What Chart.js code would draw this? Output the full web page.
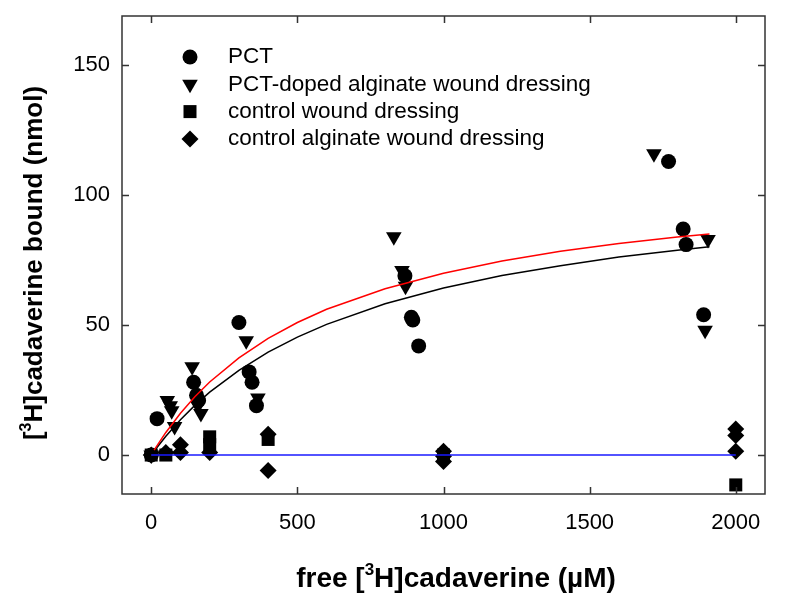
<!DOCTYPE html>
<html>
<head>
<meta charset="utf-8">
<script src="https://cdn.jsdelivr.net/npm/chart.js@4.4.0/dist/chart.umd.min.js"></script>
<style>
  html, body { margin: 0; padding: 0; background: #fff; }
</style>
</head>
<body>
<canvas id="myChart" width="787" height="593"></canvas>
<script>
// tick values
const xTicks = [0, 500, 1000, 1500, 2000];
const yTicks = [0, 50, 100, 150];

const seriesNames = ['PCT', 'PCT-doped alginate wound dressing', 'control wound dressing', 'control alginate wound dressing'];

// PCT (circles)
const pctX = [0, 20, 145, 155, 162, 300, 335, 345, 360, 868, 890, 895, 915, 1770, 1820, 1830, 1890];
const pctY = [0, 14, 28, 23, 21, 51, 32, 28, 19, 69, 53, 52, 42, 113, 87, 81, 54];

// PCT-doped alginate wound dressing (down triangles)
const dopedX = [0, 55, 65, 70, 80, 140, 160, 170, 325, 365, 830, 858, 870, 1720, 1905, 1895];
const dopedY = [0, 21, 19, 17, 11, 34, 19, 16, 44, 22, 84, 71, 65, 116, 83, 48];

// control wound dressing (squares)
const ctrlX = [0, 50, 200, 200, 400, 1000, 2000];
const ctrlY = [0, 0, 7, 4, 6, 0, -11.5];

// control alginate wound dressing (diamonds)
const algX = [0, 50, 100, 100, 200, 400, 400, 1000, 1000, 1000, 2000, 2000, 2000];
const algY = [0, 1, 1, 4, 1, 8, -6, 1.5, -0.5, -2.5, 10, 7.5, 1.5];

// fitted curves
const fitX = [10, 25, 50, 100, 150, 200, 300, 400, 500, 600, 800, 1000, 1200, 1400, 1600, 1800, 1910];
const fitRed = [1.9, 4.5, 8.7, 16.1, 22.5, 28.1, 37.4, 44.9, 51.0, 56.1, 64.0, 70.0, 74.7, 78.4, 81.4, 83.9, 85.1];
const fitBlack = [1.5, 3.7, 7.2, 13.6, 19.2, 24.2, 32.6, 39.6, 45.4, 50.3, 58.2, 64.3, 69.1, 72.9, 76.2, 78.8, 80.2];
const baseX = [0, 2000];
const baseY = [0, 0];

const xTitle = ['free [', '3', 'H]cadaverine (\u00b5M)'];
const yTitle = ['[', '3', 'H]cadaverine bound (nmol)'];

const pts = (xs, ys) => xs.map((x, i) => ({ x: x, y: ys[i] }));
const FAM = '"Liberation Sans", Arial, sans-serif';

function marker(c, style, x, y) {
  c.beginPath();
  if (style === 'circle') {
    c.arc(x, y, 7.5, 0, Math.PI * 2);
  } else if (style === 'down') {
    c.moveTo(x - 7.8, y - 4.5);
    c.lineTo(x + 7.8, y - 4.5);
    c.lineTo(x, y + 9);
    c.closePath();
  } else if (style === 'rect') {
    c.rect(x - 6.5, y - 6.5, 13, 13);
  } else {
    c.moveTo(x, y - 8.5);
    c.lineTo(x + 8.5, y);
    c.lineTo(x, y + 8.5);
    c.lineTo(x - 8.5, y);
    c.closePath();
  }
  c.fill();
}

// text with a superscript middle part
function richText(c, parts, x, y, size) {
  const big = 'bold ' + size + 'px ' + FAM;
  const small = 'bold ' + Math.round(size * 0.6) + 'px ' + FAM;
  c.font = big;
  const w0 = c.measureText(parts[0]).width;
  const w2 = c.measureText(parts[2]).width;
  c.font = small;
  const w1 = c.measureText(parts[1]).width;
  const sx = x - (w0 + w1 + w2) / 2;
  c.textAlign = 'left';
  c.textBaseline = 'alphabetic';
  c.font = big;
  c.fillText(parts[0], sx, y);
  c.font = small;
  c.fillText(parts[1], sx + w0, y - size * 0.42);
  c.font = big;
  c.fillText(parts[2], sx + w0 + w1, y);
}

const frame = {
  id: 'frame',
  afterDraw: (chart) => {
    const c = chart.ctx;
    const a = chart.chartArea;
    const xs = chart.scales.x;
    const ys = chart.scales.y;
    c.save();
    c.strokeStyle = '#333';
    c.lineWidth = 1.5;
    c.strokeRect(a.left, a.top, a.right - a.left, a.bottom - a.top);
    c.beginPath();
    xTicks.forEach((v) => {
      const px = Math.round(xs.getPixelForValue(v)) + 0.5;
      c.moveTo(px, a.bottom); c.lineTo(px, a.bottom - 7);
      c.moveTo(px, a.top); c.lineTo(px, a.top + 7);
    });
    yTicks.forEach((v) => {
      const py = Math.round(ys.getPixelForValue(v)) + 0.5;
      c.moveTo(a.left, py); c.lineTo(a.left + 7, py);
      c.moveTo(a.right, py); c.lineTo(a.right - 7, py);
    });
    c.stroke();

    // legend
    const styles = ['circle', 'down', 'rect', 'diamond'];
    c.textBaseline = 'middle';
    c.textAlign = 'left';
    seriesNames.forEach((name, i) => {
      const ly = 57 + i * 27.3;
      c.fillStyle = '#000';
      marker(c, styles[i], 190, ly);
      c.font = '22.5px ' + FAM;
      c.fillText(name, 228, ly);
    });

    // axis titles
    c.fillStyle = '#000';
    richText(c, xTitle, 456, 587, 28);
    c.translate(42, 263);
    c.rotate(-Math.PI / 2);
    richText(c, yTitle, 0, 0, 26);
    c.restore();
  },
};

const tickFont = { family: FAM, size: 22 };

const myChart = new Chart(document.getElementById('myChart').getContext('2d'), {
  type: 'scatter',
  data: {
    datasets: [
      { label: 'fit red', data: pts(fitX, fitRed), showLine: true, pointRadius: 0, borderColor: '#ff0000', borderWidth: 1.5, order: 0 },
      { label: 'fit black', data: pts(fitX, fitBlack), showLine: true, pointRadius: 0, borderColor: '#000000', borderWidth: 1.5, order: 0 },
      { label: 'baseline', data: pts(baseX, baseY), showLine: true, pointRadius: 0, borderColor: '#1a1aff', borderWidth: 1.6, order: 0 },
      { label: seriesNames[0], data: pts(pctX, pctY), pointStyle: 'circle', pointRadius: 7.5, backgroundColor: '#000', borderColor: '#000', borderWidth: 0, order: 1 },
      { label: seriesNames[1], data: pts(dopedX, dopedY), pointStyle: 'triangle', rotation: 180, pointRadius: 9, backgroundColor: '#000', borderColor: '#000', borderWidth: 0, order: 1 },
      { label: seriesNames[2], data: pts(ctrlX, ctrlY), pointStyle: 'rect', pointRadius: 9.2, backgroundColor: '#000', borderColor: '#000', borderWidth: 0, order: 1 },
      { label: seriesNames[3], data: pts(algX, algY), pointStyle: 'rectRot', pointRadius: 8.5, backgroundColor: '#000', borderColor: '#000', borderWidth: 0, order: 1 },
    ],
  },
  plugins: [frame],
  options: {
    responsive: false,
    animation: false,
    events: [],
    layout: { padding: { top: 16, right: 22, left: 0, bottom: 0 } },
    plugins: {
      legend: { display: false },
      tooltip: { enabled: false },
    },
    scales: {
      x: {
        type: 'linear',
        min: -100,
        max: 2100,
        afterBuildTicks: (s) => { s.ticks = xTicks.map((v) => ({ value: v })); },
        afterFit: (s) => { s.height = 99; s.paddingLeft = 0; s.paddingRight = 0; },
        grid: { display: false, drawTicks: false },
        border: { display: false },
        ticks: { font: tickFont, color: '#000', padding: 16, maxRotation: 0, callback: (v) => String(v) },
      },
      y: {
        type: 'linear',
        min: -15,
        max: 169,
        afterBuildTicks: (s) => { s.ticks = yTicks.map((v) => ({ value: v })); },
        afterFit: (s) => { s.width = 122; s.paddingTop = 0; s.paddingBottom = 0; },
        grid: { display: false, drawTicks: false },
        border: { display: false },
        ticks: { font: tickFont, color: '#000', padding: 12, callback: (v) => String(v) },
      },
    },
  },
});
</script>
</body>
</html>
